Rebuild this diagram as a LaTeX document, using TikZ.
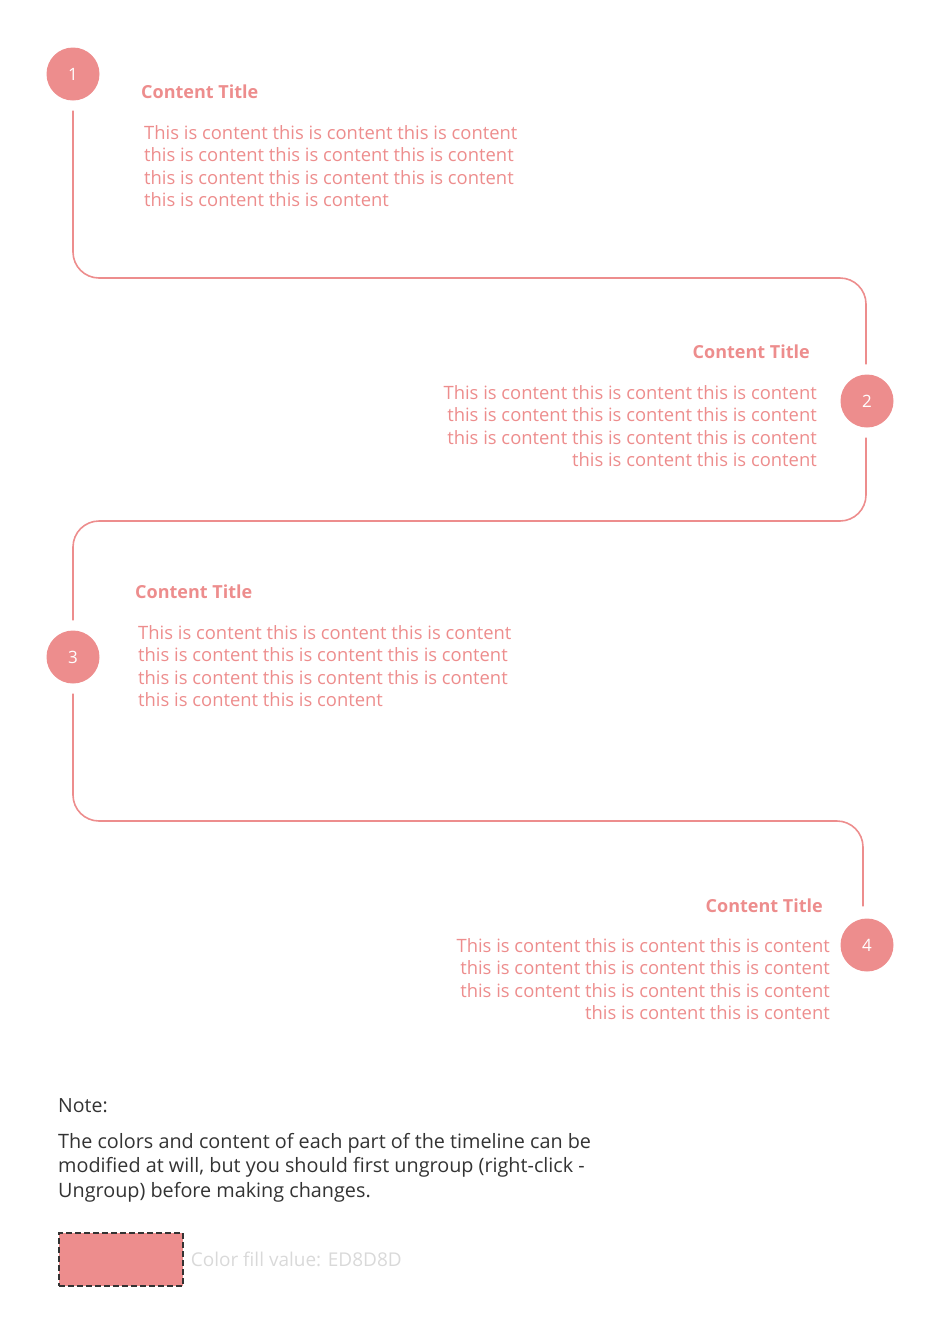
\documentclass[tikz,border=0pt]{standalone}
\usepackage{fontspec}
\setmainfont{Open Sans}
\definecolor{salmon}{HTML}{ED8D8D}
\definecolor{notetext}{HTML}{333333}
\begin{document}
\begin{tikzpicture}[x=1pt,y=-1pt]
                \tikzset{stage/.style={circle,fill=salmon,minimum size=53pt,inner sep=0pt,text=white,font=\fontsize{17}{20}\selectfont},
                        ttl/.style={text=salmon,font=\fontsize{18}{22}\selectfont\bfseries,inner sep=0pt},
                        body/.style={text=salmon,font=\fontsize{18.4}{22.6}\selectfont,inner sep=0pt},
                        track/.style={draw=salmon,line width=1.6pt,rounded corners=26pt}}
                \useasboundingbox (0,0) rectangle (940,1326);
                \foreach \num/\x/\y in {1/73/74, 2/867/401, 3/73/657, 4/867/945}
                        \node[stage] (S-\num) at (\x,\y) {\num};

                    % timeline track
                    \draw[track] ([yshift=-10pt]S-1.south) -- (73,278) -- (866,278) -- ([yshift=10pt]S-2.north -| 866,0);
                    \draw[track] ([yshift=-10pt]S-2.south -| 866,0) -- (866,521) -- (73,521) -- ([yshift=10pt]S-3.north);
                    \draw[track] ([yshift=-10pt]S-3.south) -- (73,821) -- (863,821) -- ([yshift=12pt]S-4.north -| 863,0);

                    \node[ttl,anchor=base west] (T-1) at (141,98) {Content Title};
                    \node[ttl,anchor=base east] (T-2) at (810,358) {Content Title};
                    \node[ttl,anchor=base west] (T-3) at (135,598) {Content Title};
                    \node[ttl,anchor=base east] (T-4) at (823,912) {Content Title};

                    \node[body,anchor=north west,align=left] (B-1) at (144,125) {This is content this is content this is content\\this is content this is content this is content\\this is content this is content this is content\\this is content this is content};
                    \node[body,anchor=north east,align=right] (B-2) at (817,385) {This is content this is content this is content\\this is content this is content this is content\\this is content this is content this is content\\this is content this is content};
                    \node[body,anchor=north west,align=left] (B-3) at (138,625) {This is content this is content this is content\\this is content this is content this is content\\this is content this is content this is content\\this is content this is content};
                    \node[body,anchor=north east,align=right] (B-4) at (830,938) {This is content this is content this is content\\this is content this is content this is content\\this is content this is content this is content\\this is content this is content};

                    % note
                    \node[anchor=base west,inner sep=0pt,text=notetext,font=\fontsize{19.5}{24}\selectfont] (note) at (58,1112) {Note:};
                    \node[anchor=north west,inner sep=0pt,text=notetext,align=left,font=\fontsize{19.8}{24.5}\selectfont] (note-txt) at (58,1133) {The colors and content of each part of the timeline can be\\modified at will, but you should first ungroup (right-click -\\Ungroup) before making changes.};
                    \node[draw=notetext,dash pattern=on 6pt off 3pt,line width=1.6pt,fill=salmon,minimum width=124pt,minimum height=53pt,anchor=north west] (swatch) at (58,1232) {};
                    \node[anchor=west,inner sep=0pt,text=black!15,font=\fontsize{19}{22}\selectfont] (swatch-txt) at ([xshift=7pt]swatch.east) {Color fill value: ED8D8D};
            \end{tikzpicture}
\end{document}
